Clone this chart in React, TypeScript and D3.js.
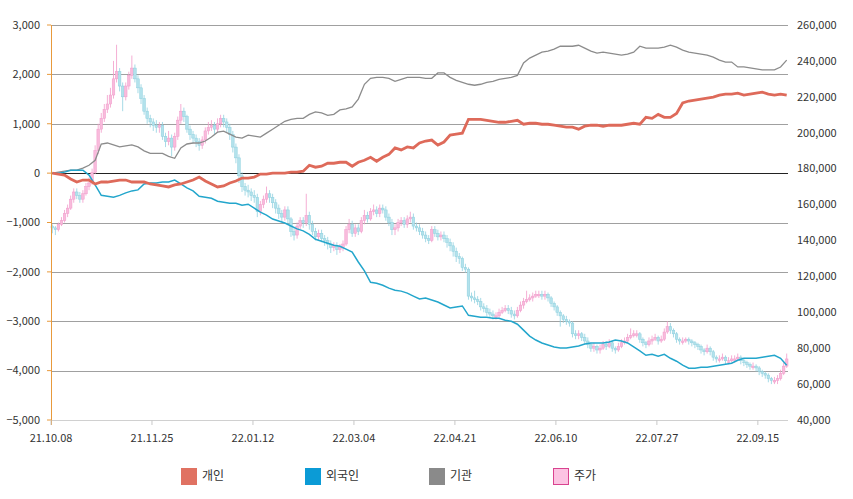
import React from "react";
import * as d3 from "d3";

// 일별 주가 (천원)
const closes = [
  147, 146, 149, 151, 155, 158, 163, 167, 165, 163,
  166, 170, 172, 178, 190, 202, 208, 213, 216, 221,
  230, 234, 226, 220, 226, 232, 236, 230, 225, 219,
  212, 208, 206, 204, 203, 204, 198, 195, 197, 192,
  198, 207, 212, 209, 202, 199, 197, 195, 193, 196,
  201, 203, 204, 202, 205, 208, 206, 203, 199, 192,
  186, 176, 170, 168, 167, 165, 164, 156, 160, 163,
  166, 164, 161, 158, 155, 153, 157, 152, 145, 143,
  148, 151, 150, 154, 149, 145, 142, 144, 141, 140,
  138, 136, 137, 135, 136, 138, 146, 149, 144, 147,
  145, 151, 154, 152, 156, 157, 155, 158, 157, 153,
  150, 146, 147, 150, 151, 149, 152, 153, 148, 147,
  145, 143, 141, 140, 146, 144, 142, 143, 141, 139,
  137, 134, 131, 130, 125, 124, 109, 108, 107, 106,
  103, 102, 100, 99, 98, 98, 100, 101, 102, 101,
  99, 98, 101, 104, 106, 107, 108, 109, 110, 110,
  109, 110, 108, 105, 103, 100, 98, 96, 95, 94,
  88, 87, 88, 86, 84, 82, 80, 81, 79, 80,
  82, 81, 83, 80, 79, 81, 83, 84, 86, 87,
  88, 88, 85, 83, 82, 84, 85, 86, 84, 85,
  89, 92, 90, 88, 85, 84, 84, 85, 84, 83,
  82, 81, 79, 78, 80, 78, 75, 74, 74, 75,
  73, 73, 74, 74, 75, 73, 72, 71, 70, 70,
  69, 67, 66, 65, 63, 62, 62, 63, 66, 70,
  74,
];
const firstOpen = 148;

const highs = [
  149, 148, 150, 153, 157, 160, 165, 169, 169, 167,
  168, 172, 175, 180, 193, 205, 211, 216, 221, 225,
  240, 249, 236, 228, 228, 234, 243, 238, 232, 227,
  221, 214, 210, 208, 207, 206, 206, 200, 201, 199,
  200, 209, 216, 214, 210, 204, 201, 199, 197, 198,
  203, 206, 207, 206, 208, 210, 210, 208, 205, 201,
  194, 188, 178, 172, 171, 169, 168, 166, 162, 165,
  170, 168, 166, 163, 160, 157, 159, 159, 153, 147,
  150, 153, 153, 166, 156, 151, 147, 146, 146, 143,
  142, 140, 139, 139, 138, 140, 148, 152, 151, 149,
  149, 153, 157, 156, 158, 160, 159, 160, 160, 159,
  155, 152, 149, 152, 153, 153, 154, 156, 155, 150,
  149, 147, 145, 143, 148, 148, 146, 145, 145, 143,
  141, 139, 136, 133, 131, 127, 125, 111, 112, 109,
  108, 105, 104, 102, 101, 100, 102, 103, 104, 104,
  103, 101, 103, 106, 108, 112, 110, 111, 112, 112,
  112, 112, 111, 109, 106, 104, 101, 99, 98, 96,
  95, 90, 90, 89, 88, 86, 83, 83, 82, 82,
  84, 84, 85, 84, 81, 83, 85, 86, 88, 91,
  90, 90, 89, 86, 84, 86, 87, 88, 87, 87,
  91, 95, 94, 91, 89, 86, 86, 86, 86, 85,
  84, 83, 82, 80, 82, 81, 79, 76, 76, 77,
  76, 75, 76, 76, 77, 76, 74, 73, 72, 72,
  71, 70, 68, 67, 66, 64, 64, 65, 68, 72,
  77,
];

const lows = [
  144, 143, 145, 148, 150, 153, 157, 161, 163, 161,
  161, 165, 168, 171, 177, 188, 200, 206, 211, 214,
  219, 228, 223, 212, 218, 224, 230, 228, 222, 216,
  210, 205, 203, 201, 200, 200, 196, 192, 193, 187,
  190, 196, 205, 206, 200, 196, 194, 192, 190, 191,
  194, 199, 201, 199, 200, 203, 203, 200, 196, 189,
  183, 172, 167, 165, 164, 162, 161, 153, 154, 158,
  161, 161, 158, 155, 152, 150, 151, 149, 142, 140,
  141, 146, 147, 148, 146, 143, 140, 140, 139, 137,
  135, 133, 134, 132, 133, 134, 137, 144, 142, 142,
  143, 144, 149, 150, 151, 154, 153, 153, 155, 151,
  148, 143, 143, 145, 148, 147, 147, 150, 146, 145,
  143, 141, 139, 138, 139, 142, 140, 140, 139, 136,
  134, 131, 128, 127, 123, 122, 107, 106, 105, 104,
  101, 100, 98, 97, 96, 96, 97, 99, 100, 99,
  97, 96, 97, 100, 102, 105, 106, 106, 108, 108,
  107, 107, 106, 103, 101, 98, 92, 94, 93, 92,
  86, 85, 85, 84, 82, 80, 78, 78, 77, 77,
  79, 79, 80, 78, 77, 78, 80, 82, 83, 85,
  86, 86, 83, 81, 80, 81, 82, 84, 82, 83,
  84, 88, 88, 86, 83, 82, 82, 83, 82, 81,
  80, 79, 77, 76, 77, 76, 73, 72, 72, 73,
  71, 71, 72, 72, 73, 71, 70, 69, 68, 68,
  67, 65, 64, 63, 61, 60, 60, 60, 62, 65,
  69,
];

// 누적 순매수 (2거래일 간격)
const individual = [
  0, -20, -40, -120, -180, -140, -140, -220, -180, -180,
  -160, -140, -140, -180, -180, -180, -220, -240, -260, -280,
  -240, -220, -180, -140, -80, -160, -220, -280, -260, -200,
  -160, -100, -100, -80, -20, -20, 0, 0, 0, 20,
  20, 40, 160, 120, 140, 200, 200, 220, 220, 140,
  220, 260, 320, 240, 320, 380, 510, 470, 530, 510,
  610, 650, 670, 570, 630, 770, 790, 810, 1090, 1090,
  1090, 1070, 1050, 1030, 1030, 1050, 1070, 990, 1010, 1010,
  990, 990, 970, 950, 930, 930, 890, 950, 970, 970,
  950, 970, 970, 970, 990, 1010, 990, 1130, 1110, 1190,
  1130, 1130, 1210, 1420, 1460, 1480, 1500, 1520, 1540, 1580,
  1600, 1600, 1620, 1580, 1600, 1620, 1640, 1600, 1580, 1600,
  1580,
];

const foreign = [
  0, 0, 20, 60, 60, 60, -40, -240, -450, -470,
  -490, -450, -400, -360, -340, -220, -200, -200, -180, -180,
  -140, -220, -300, -360, -470, -490, -510, -570, -590, -610,
  -610, -650, -630, -710, -790, -850, -930, -970, -1010, -1070,
  -1130, -1170, -1240, -1340, -1380, -1420, -1460, -1480, -1540, -1600,
  -1800, -1980, -2210, -2230, -2270, -2330, -2370, -2390, -2430, -2490,
  -2550, -2530, -2570, -2610, -2670, -2730, -2710, -2690, -2880, -2900,
  -2920, -2920, -2940, -2940, -2980, -3000, -3060, -3180, -3300, -3380,
  -3440, -3480, -3520, -3540, -3540, -3520, -3500, -3460, -3440, -3440,
  -3440, -3420, -3380, -3400, -3440, -3520, -3600, -3690, -3670, -3710,
  -3670, -3750, -3810, -3890, -3950, -3950, -3930, -3930, -3910, -3890,
  -3870, -3850, -3790, -3750, -3750, -3750, -3730, -3710, -3690, -3750,
  -3890,
];

const institution = [
  0, 20, 40, 60, 60, 100, 160, 260, 590, 610,
  570, 530, 550, 570, 530, 450, 400, 400, 400, 340,
  300, 510, 590, 610, 610, 650, 730, 830, 850, 790,
  730, 710, 770, 750, 730, 810, 890, 970, 1050, 1090,
  1110, 1110, 1190, 1240, 1220, 1170, 1190, 1280, 1300, 1340,
  1500, 1800, 1920, 1940, 1940, 1920, 1860, 1900, 1940, 1940,
  1940, 1920, 1920, 2030, 2030, 1940, 1880, 1840, 1800, 1780,
  1800, 1840, 1860, 1900, 1920, 1940, 1980, 2230, 2330, 2390,
  2450, 2470, 2510, 2570, 2570, 2570, 2590, 2530, 2470, 2430,
  2450, 2430, 2410, 2390, 2410, 2450, 2570, 2530, 2530, 2530,
  2550, 2590, 2550, 2490, 2450, 2430, 2410, 2390, 2350, 2290,
  2250, 2250, 2150, 2150, 2130, 2110, 2090, 2090, 2090, 2150,
  2290,
];

const tickIndex = [0, 33, 66, 99, 132, 165, 198, 231];
const tickLabels = ["21.10.08", "21.11.25", "22.01.12", "22.03.04", "22.04.21", "22.06.10", "22.07.27", "22.09.15"];
const leftTicks = [3000, 2000, 1000, 0, -1000, -2000, -3000, -4000, -5000];
const rightTicks = [260000, 240000, 220000, 200000, 180000, 160000, 140000, 120000, 100000, 80000, 60000, 40000];
const legendNames = ["개인", "외국인", "기관", "주가"];

const W = 853;
const H = 499;
const left = 51;
const right = 788;
const top = 25;
const bottom = 420;
const font = "'Noto Sans CJK KR', 'Noto Sans', sans-serif";

const App: React.FC = () => {
  const x = d3
    .scaleBand<number>()
    .domain(d3.range(closes.length))
    .range([left, right])
    .paddingInner(0.15);
  const cx = (i: number) => (x(i) as number) + x.bandwidth() / 2;

  const yL = d3.scaleLinear().domain([-5000, 3000]).range([bottom, top]);
  const yR = d3.scaleLinear().domain([40000, 260000]).range([bottom, top]);

  const line = d3
    .line<number>()
    .x((_, k) => cx(k * 2))
    .y((d) => yL(d));

  const fmt = d3.format(",");
  const legendX = d3.scalePoint<string>().domain(legendNames).range([181, 553]);

  const candles = closes.map((c, i) => {
    const o = i === 0 ? firstOpen : closes[i - 1];
    const up = c >= o;
    return { i, o: o * 1000, c: c * 1000, h: highs[i] * 1000, l: lows[i] * 1000, up };
  });

  const legendColors: Record<string, [string, string]> = {
    개인: ["#e07262", "#e07262"],
    외국인: ["#0b9bd6", "#0b9bd6"],
    기관: ["#8a8a8a", "#8a8a8a"],
    주가: ["#fcc3e2", "#d9438f"],
  };

  return (
    <svg
      width={W}
      height={H}
      style={{ position: "absolute", left: 0, top: 0, background: "#fff" }}
      fontFamily={font}
    >
      {/* grid */}
      {leftTicks.map((t) => (
        <line
          key={t}
          x1={left}
          x2={right}
          y1={Math.round(yL(t)) + 0.5}
          y2={Math.round(yL(t)) + 0.5}
          stroke={t === 0 ? "#222" : t === -5000 ? "#d0d0d0" : "#a0a0a0"}
          strokeWidth={t === 0 ? 1.2 : 1}
        />
      ))}

      {/* candles */}
      {candles.map((d) => (
        <g key={d.i}>
          <line
            x1={cx(d.i)}
            x2={cx(d.i)}
            y1={yR(d.h)}
            y2={yR(d.l)}
            stroke={d.up ? "#f29ac9" : "#8fd0df"}
            strokeWidth={0.8}
          />
          <rect
            x={x(d.i)}
            width={x.bandwidth()}
            y={yR(Math.max(d.o, d.c))}
            height={Math.max(1.5, Math.abs(yR(d.o) - yR(d.c)))}
            fill={d.up ? "#f9bbdc" : "#b3e2ec"}
            stroke={d.up ? "#f09ccb" : "#8ccfde"}
            strokeWidth={0.5}
          />
        </g>
      ))}

      {/* lines */}
      <path d={line(institution) || ""} fill="none" stroke="#8c8c8c" strokeWidth={1.3} />
      <path d={line(foreign) || ""} fill="none" stroke="#23a6cc" strokeWidth={1.5} />
      <path d={line(individual) || ""} fill="none" stroke="#de6a5a" strokeWidth={2.8} />

      {/* left axis */}
      <line x1={left + 0.5} x2={left + 0.5} y1={top} y2={bottom + 5} stroke="#e89a3c" strokeWidth={1} />
      {leftTicks.map((t) => (
        <g key={t}>
          <line x1={left - 4} x2={left} y1={yL(t)} y2={yL(t)} stroke="#e89a3c" />
          <text x={40} y={yL(t)} dy="0.35em" textAnchor="end" fontSize={11} fill="#333">
            {fmt(t)}
          </text>
        </g>
      ))}

      {/* right axis labels */}
      {rightTicks.map((t) => (
        <text key={t} x={797} y={yR(t)} dy="0.35em" textAnchor="start" fontSize={11} fill="#333">
          {fmt(t)}
        </text>
      ))}

      {/* bottom axis */}
      {tickIndex.map((ti, k) => (
        <g key={ti}>
          <line x1={x(ti)} x2={x(ti)} y1={bottom} y2={bottom + 5} stroke="#c8c8c8" />
          <text x={x(ti)} y={438} dy="0.35em" textAnchor="middle" fontSize={11} fill="#333">
            {tickLabels[k]}
          </text>
        </g>
      ))}

      {/* legend */}
      {legendNames.map((n) => {
        const lx = legendX(n) as number;
        const [fill, stroke] = legendColors[n];
        return (
          <g key={n}>
            <rect x={lx + 0.5} y={468.5} width={15} height={16} fill={fill} stroke={stroke} strokeWidth={1} />
            <text x={lx + 21} y={476} dy="0.35em" fontSize={12} fill="#333">
              {n}
            </text>
          </g>
        );
      })}
    </svg>
  );
};

export default App;
